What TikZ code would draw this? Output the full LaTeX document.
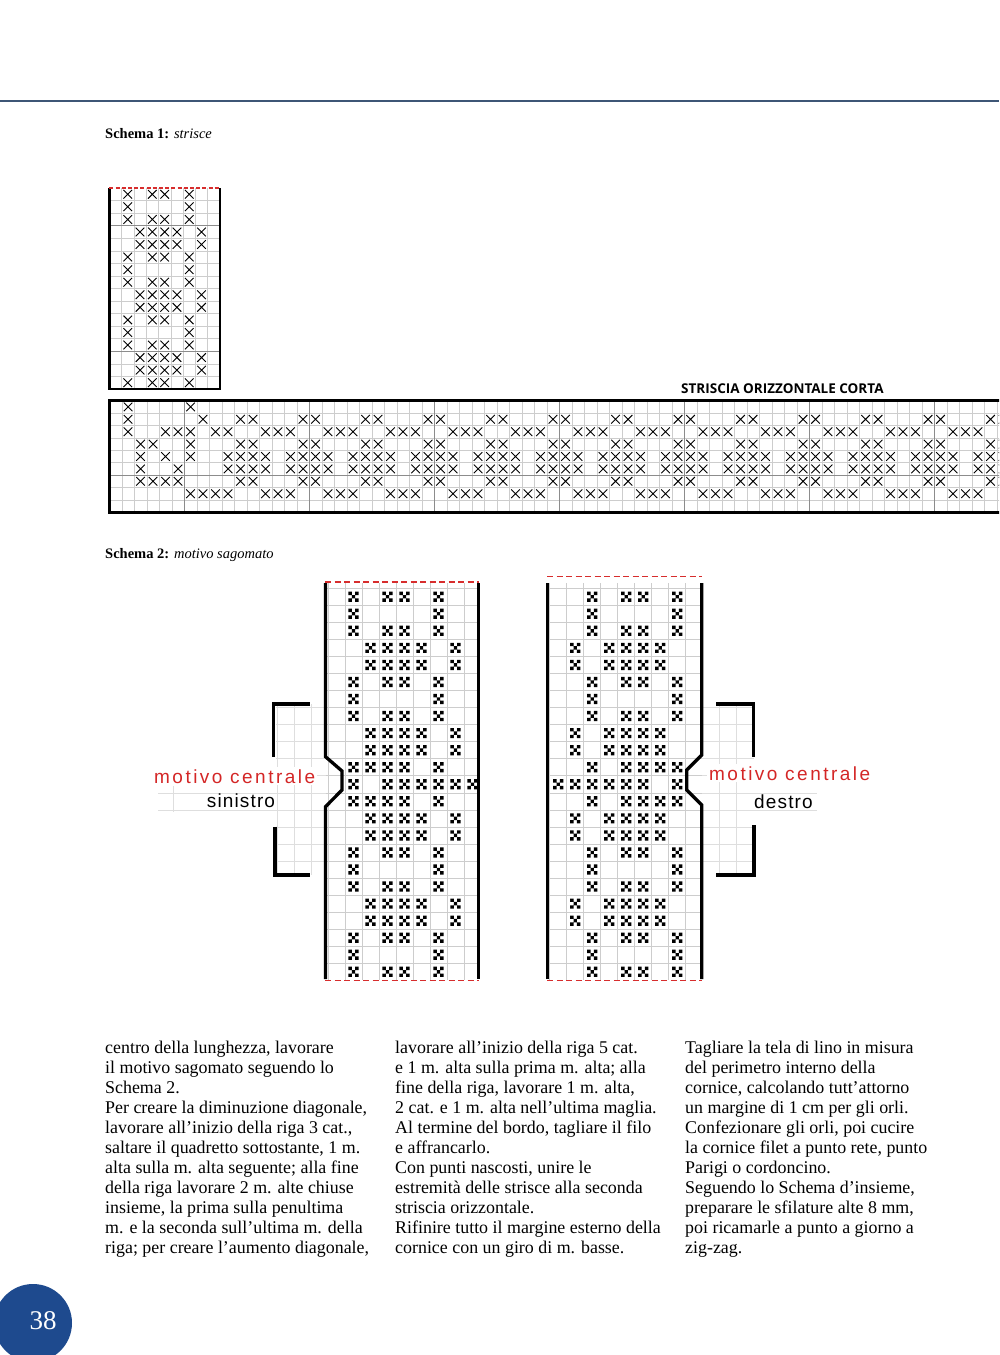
\documentclass[tikz,border=0pt]{standalone}
\usepackage{fontspec}
\setmainfont{Liberation Serif}
\newfontfamily\sansRed[LetterSpace=13]{Liberation Sans}
\newfontfamily\sansBlk[LetterSpace=6]{Liberation Sans}
\newfontfamily\capsfont{Open Sans}
\definecolor{headc}{RGB}{62,86,118}
\definecolor{gridc}{RGB}{205,205,205}
\definecolor{gridf}{RGB}{222,222,222}
\definecolor{gridd}{RGB}{140,140,140}
\definecolor{dashred}{RGB}{215,45,45}
\definecolor{lblred}{RGB}{212,38,38}
\definecolor{pagec}{RGB}{30,74,142}
\newcommand\xcr[2]{\draw[xm] ({#1-4.3},{#2-4.3}) -- ++(8.6,8.6) ({#1-4.3},{#2+4.3}) -- ++(8.6,-8.6);}
\newcommand\vx[2]{\xcr{115.45+12.3*(#1)}{194.28+12.56*(#2)}}
\newcommand\hx[2]{\xcr{115.55+12.5*(#1)}{406.9+12.4*((#2)-1)}}
\newcommand\dmk[2]{\fill ({#1-5.1},{#2-5.1}) rectangle ++(3.4,3.4) ({#1+1.7},{#2-5.1}) rectangle ++(3.4,3.4) ({#1-1.7},{#2-1.7}) rectangle ++(3.4,3.4) ({#1-5.1},{#2+1.7}) rectangle ++(3.4,3.4) ({#1+1.7},{#2+1.7}) rectangle ++(3.4,3.4);}
\newcommand\bodyfont{\fontsize{17.9pt}{20pt}\selectfont}
\tikzset{
  gl/.style={draw=gridc, line width=0.6pt},
  gf/.style={draw=gridf, line width=0.6pt},
  gd/.style={draw=gridd, line width=0.9pt},
  bd/.style={draw=black, line width=2.6pt},
  bd2/.style={draw=black, line width=3.3pt},
  rdash/.style={draw=dashred, line width=1.8pt, dash pattern=on 4pt off 2.2pt},
  rdash2/.style={draw=dashred, line width=1.5pt, dash pattern=on 6pt off 3.5pt},
  xm/.style={draw=black, line width=0.9pt},
  txt/.style={anchor=base west, inner sep=0pt, font=\bodyfont},
  schl/.style={anchor=base west, inner sep=0pt, font=\fontsize{14.5pt}{16pt}\selectfont},
}
\begin{document}
\begin{tikzpicture}[x=1pt,y=-1pt]
\useasboundingbox (0,0) rectangle (999,1355);
\begin{scope}
\clip (0,0) rectangle (999,1355);

% header line
\draw[draw=headc, line width=2.2pt] (0,101) -- (999,101);

% Schema 1 label
\node[schl] (s1) at (105,138) {\textbf{Schema 1:} \textit{strisce}};

% ---------- vertical strip ----------
\foreach \i in {1,...,8} \draw[gl] ({109.3+12.3*\i},188) -- ++(0,201);
\foreach \j in {1,...,15} \draw[gl] (109.3,{188+12.56*\j}) -- ++(110.7,0);
\draw[gd] (109.3,{188+12.56*3}) -- ++(110.7,0);
\draw[gd] (109.3,{188+12.56*13}) -- ++(110.7,0);
\foreach \r in {0,5,10,15} {\foreach \c in {1,3,4,6} {\vx{\c}{\r}}}
\foreach \r in {2,7,12} {\foreach \c in {1,3,4,6} {\vx{\c}{\r}}}
\foreach \r in {1,6,11} {\foreach \c in {1,6} {\vx{\c}{\r}}}
\foreach \r in {3,4,8,9,13,14} {\foreach \c in {2,3,4,5,7} {\vx{\c}{\r}}}
\draw[bd] (109.3,188) -- (109.3,389) -- (220,389) -- (220,188);
\draw[rdash] (109.3,188) -- (220,188);

% ---------- horizontal strip ----------
\node[anchor=base west, inner sep=0pt, font=\capsfont\bfseries\fontsize{13.5pt}{15pt}\selectfont] (strc) at (681,393) {STRISCIA ORIZZONTALE CORTA};
\foreach \i in {1,...,71} \draw[gl] ({109.3+12.5*\i},400.7) -- ++(0,111.6);
\foreach \j in {1,...,8} \draw[gl] (109.3,{400.7+12.4*\j}) -- (1005,{400.7+12.4*\j});
\foreach \k in {0,...,6} \draw[gd] ({184.3+125*\k},400.7) -- ++(0,111.6);
\draw[gd] (109.3,{400.7+12.4*6}) -- (1005,{400.7+12.4*6});
\foreach \c in {1,6} {\hx{\c}{1}}
\foreach \c in {1,7} {\hx{\c}{2}}
\foreach \c in {1,4,5,6,8,9} {\hx{\c}{3}}
\foreach \c in {2,3,6} {\hx{\c}{4}}
\foreach \c in {2,4,6} {\hx{\c}{5}}
\foreach \c in {2,5} {\hx{\c}{6}}
\foreach \c in {2,3,4,5} {\hx{\c}{7}}
\foreach \c in {6,7,8,9} {\hx{\c}{8}}
\foreach \k in {2,...,14}{
  \foreach \r in {2,4,7}{\hx{5*\k}{\r}\hx{5*\k+1}{\r}}
  \foreach \r in {3,8}{\hx{5*\k+2}{\r}\hx{5*\k+3}{\r}\hx{5*\k+4}{\r}}
  \foreach \r in {5,6}{\hx{5*\k-1}{\r}\hx{5*\k}{\r}\hx{5*\k+1}{\r}\hx{5*\k+2}{\r}}
}
\draw[bd] (1005,400.7) -- (109.3,400.7) -- (109.3,512.3) -- (1005,512.3);

% Schema 2 label
\node[schl] (s2) at (105,558) {\textbf{Schema 2:} \textit{motivo sagomato}};

% ---------- faint grid near brackets ----------
\foreach \x in {277,294,311} \draw[gf] (\x,704) -- (\x,875);
\foreach \j in {7,...,16} \draw[gf] (276,{588.2+17.05*\j}) -- (325.5,{588.2+17.05*\j});
\foreach \j in {12,13} \draw[gf] (158,{588.2+17.05*\j}) -- (276,{588.2+17.05*\j});
\draw[gf] (173,786) -- (173,812);
\foreach \x in {719.7,736.7} \draw[gf] (\x,704) -- (\x,875);
\foreach \j in {7,...,16} \draw[gf] (701.7,{588.2+17.05*\j}) -- (754,{588.2+17.05*\j});
\foreach \j in {12,13} \draw[gf] (754,{588.2+17.05*\j}) -- (817,{588.2+17.05*\j});

% labels
\node[anchor=base west, inner sep=2pt, fill=white, text=lblred, font=\sansRed\fontsize{19pt}{22pt}\selectfont] (mcl) at (152,783) {motivo centrale};
\node[anchor=base west, inner sep=0pt, font=\sansBlk\fontsize{19pt}{22pt}\selectfont] (sin) at (206.7,807) {sinistro};
\node[anchor=base west, inner sep=2pt, fill=white, text=lblred, font=\sansRed\fontsize{19pt}{22pt}\selectfont] (mcr) at (707,780) {motivo centrale};
\node[anchor=base west, inner sep=0pt, font=\sansBlk\fontsize{19pt}{22pt}\selectfont] (des) at (754,808.3) {destro};

% brackets
\draw[bd2] (310,704) -- (273.3,704) -- (273.3,757);
\draw[bd2] (275,826.7) -- (275,875) -- (310,875);
\draw[bd2] (716,704) -- (753.3,704) -- (753.3,757);
\draw[bd2] (754,825) -- (754,875) -- (716,875);

% ---------- Schema 2 charts: grids ----------
\foreach \i in {0,...,8} \draw[gl] ({328+17*\i},583) -- ({328+17*\i},980);
\foreach \j in {0,...,22} \draw[gl] (325.5,{588.2+17.05*\j}) -- (478.5,{588.2+17.05*\j});
\foreach \i in {0,...,8} \draw[gl] ({549.7+17*\i},583) -- ({549.7+17*\i},980);
\foreach \j in {0,...,22} \draw[gl] (547.7,{588.2+17.05*\j}) -- (701.7,{588.2+17.05*\j});

% marks (right chart is the mirror of the left one)
\foreach \r/\cols in {0/{1,3,4,6},1/{1,6},2/{1,3,4,6},3/{2,3,4,5,7},4/{2,3,4,5,7},5/{1,3,4,6},6/{1,6},7/{1,3,4,6},8/{2,3,4,5,7},9/{2,3,4,5,7},10/{1,2,3,4,6},11/{1,3,4,5,6,7,8},12/{1,2,3,4,6},13/{2,3,4,5,7},14/{2,3,4,5,7},15/{1,3,4,6},16/{1,6},17/{1,3,4,6},18/{2,3,4,5,7},19/{2,3,4,5,7},20/{1,3,4,6},21/{1,6},22/{1,3,4,6}}{
  \foreach \c in \cols {\dmk{336.5+17*\c}{596.7+17.05*\r}\dmk{558.2+17*(8-\c)}{596.7+17.05*\r}}
}

% chart borders
\draw[bd2] (325.5,583) -- (325.5,756.7) -- (342,771) -- (342,790) -- (325.5,806.7) -- (325.5,979);
\draw[bd2] (478.5,583) -- (478.5,979);
\draw[rdash2] (325,582) -- (479,582);
\draw[rdash2] (325,980.5) -- (479,980.5);
\draw[bd2] (547.7,583) -- (547.7,979);
\draw[bd2] (701.7,583) -- (701.7,755) -- (686.7,770) -- (686.7,790) -- (701.7,805) -- (701.7,979);
\draw[rdash2] (547,576.7) -- (702,576.7);
\draw[rdash2] (547,980.5) -- (702,980.5);

% ---------- body text ----------
\node[txt] (a1) at (105,1053) {centro della lunghezza, lavorare};
\node[txt] (a2) at (105,1073) {il motivo sagomato seguendo lo};
\node[txt] (a3) at (105,1093) {Schema 2.};
\node[txt] (a4) at (105,1113) {Per creare la diminuzione diagonale,};
\node[txt] (a5) at (105,1133) {lavorare all’inizio della riga 3 cat.,};
\node[txt] (a6) at (105,1153) {saltare il quadretto sottostante, 1 m.};
\node[txt] (a7) at (105,1173) {alta sulla m. alta seguente; alla fine};
\node[txt] (a8) at (105,1193) {della riga lavorare 2 m. alte chiuse};
\node[txt] (a9) at (105,1213) {insieme, la prima sulla penultima};
\node[txt] (a10) at (105,1233) {m. e la seconda sull’ultima m. della};
\node[txt] (a11) at (105,1253) {riga; per creare l’aumento diagonale,};

\node[txt] (b1) at (395,1053) {lavorare all’inizio della riga 5 cat.};
\node[txt] (b2) at (395,1073) {e 1 m. alta sulla prima m. alta; alla};
\node[txt] (b3) at (395,1093) {fine della riga, lavorare 1 m. alta,};
\node[txt] (b4) at (395,1113) {2 cat. e 1 m. alta nell’ultima maglia.};
\node[txt] (b5) at (395,1133) {Al termine del bordo, tagliare il filo};
\node[txt] (b6) at (395,1153) {e affrancarlo.};
\node[txt] (b7) at (395,1173) {Con punti nascosti, unire le};
\node[txt] (b8) at (395,1193) {estremità delle strisce alla seconda};
\node[txt] (b9) at (395,1213) {striscia orizzontale.};
\node[txt] (b10) at (395,1233) {Rifinire tutto il margine esterno della};
\node[txt] (b11) at (395,1253) {cornice con un giro di m. basse.};

\node[txt] (c1) at (685,1053) {Tagliare la tela di lino in misura};
\node[txt] (c2) at (685,1073) {del perimetro interno della};
\node[txt] (c3) at (685,1093) {cornice, calcolando tutt’attorno};
\node[txt] (c4) at (685,1113) {un margine di 1 cm per gli orli.};
\node[txt] (c5) at (685,1133) {Confezionare gli orli, poi cucire};
\node[txt] (c6) at (685,1153) {la cornice filet a punto rete, punto};
\node[txt] (c7) at (685,1173) {Parigi o cordoncino.};
\node[txt] (c8) at (685,1193) {Seguendo lo Schema d’insieme,};
\node[txt] (c9) at (685,1213) {preparare le sfilature alte 8 mm,};
\node[txt] (c10) at (685,1233) {poi ricamarle a punto a giorno a};
\node[txt] (c11) at (685,1253) {zig-zag.};

% page number
\fill[pagec] (33,1323) circle[radius=39];
\node[inner sep=0pt, text=white, font=\fontsize{27pt}{30pt}\selectfont] (pg) at (43,1321) {38};
\end{scope}
\end{tikzpicture}
\end{document}
